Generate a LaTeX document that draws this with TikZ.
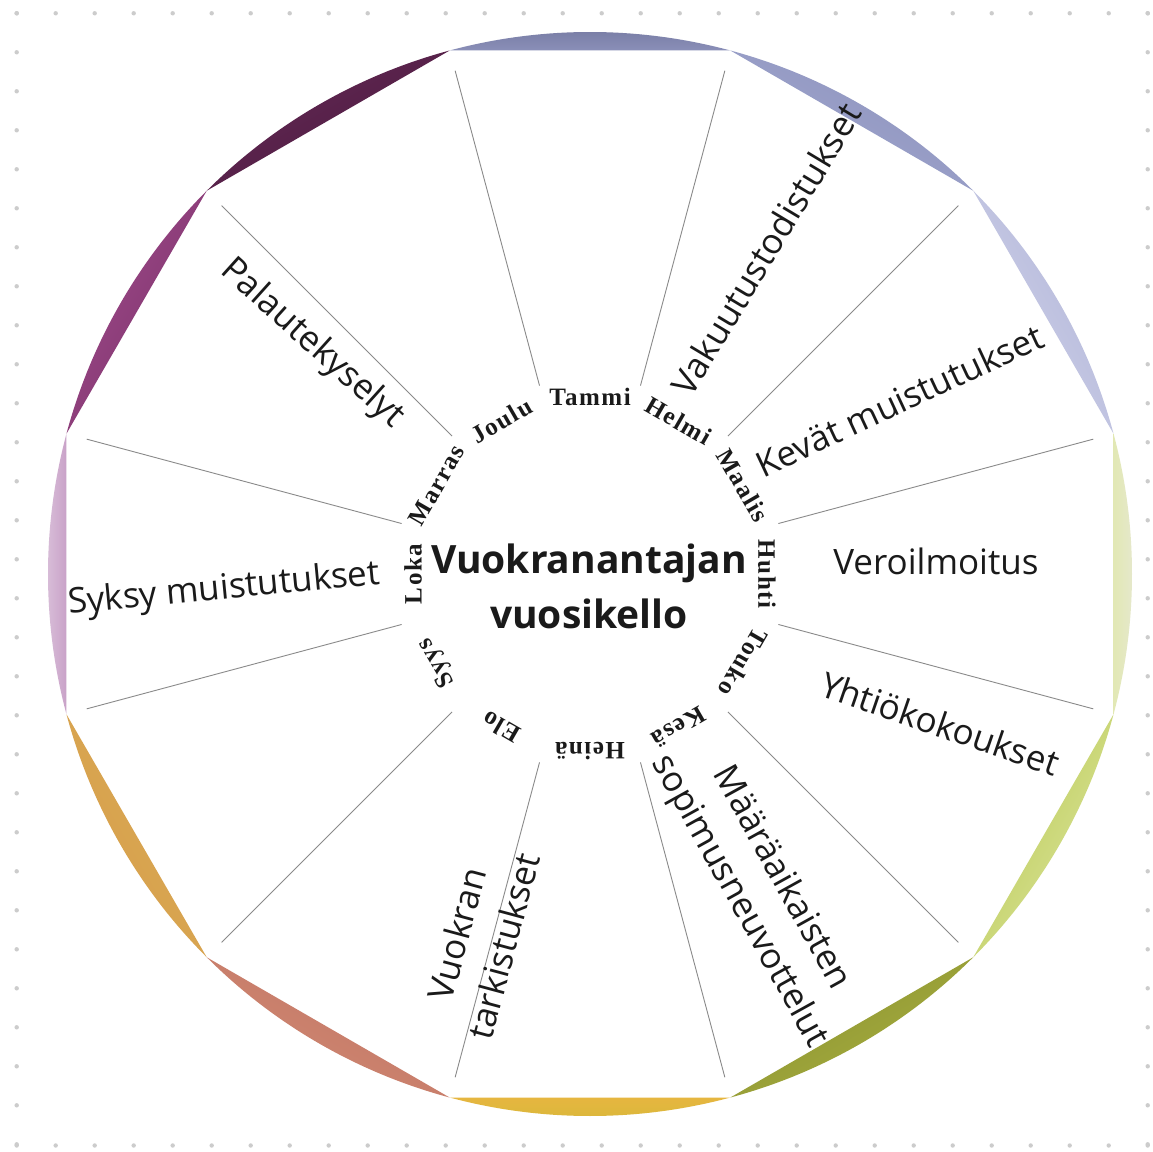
\documentclass[tikz,border=0pt]{standalone}
\usepackage{fontspec}
\newfontfamily\osans{Open Sans}
\newfontfamily\mserif{Liberation Serif}[LetterSpace=6]
\definecolor{dotc}{HTML}{CCCCCC}
\definecolor{spokec}{HTML}{8A8A8A}
\definecolor{txt}{HTML}{1A1A1A}
% segment colours: A = counterclockwise end, B = clockwise end
\definecolor{a90}{HTML}{767AA2}\definecolor{b90}{HTML}{8A8FB8}
\definecolor{a60}{HTML}{8C92BC}\definecolor{b60}{HTML}{A3A8D0}
\definecolor{a30}{HTML}{B0B4D8}\definecolor{b30}{HTML}{D2D4EA}
\definecolor{a0}{HTML}{E6E8D2}\definecolor{b0}{HTML}{E2E8B4}
\definecolor{a-30}{HTML}{DDE6A0}\definecolor{b-30}{HTML}{B8C850}
\definecolor{a-60}{HTML}{A8B040}\definecolor{b-60}{HTML}{8A9030}
\definecolor{a-90}{HTML}{D9B83A}\definecolor{b-90}{HTML}{E6B640}
\definecolor{a-120}{HTML}{D08A70}\definecolor{b-120}{HTML}{C27468}
\definecolor{a-150}{HTML}{D8A048}\definecolor{b-150}{HTML}{D8A858}
\definecolor{a180}{HTML}{DCC4DC}\definecolor{b180}{HTML}{C9A2C8}
\definecolor{a150}{HTML}{A04C8C}\definecolor{b150}{HTML}{7A3068}
\definecolor{a120}{HTML}{652656}\definecolor{b120}{HTML}{4A1E3E}
\begin{document}
\begin{tikzpicture}[x=1pt,y=1pt,
  spoke/.style={draw=spokec, line width=0.9pt},
  month/.style={font=\mserif\bfseries\fontsize{25}{28}\selectfont, text=txt, inner sep=0pt},
  lab/.style={font=\osans\fontsize{35}{48}\selectfont, text=txt, inner sep=0pt},
  ttl/.style={font=\osans\bfseries\fontsize{39}{44}\selectfont, text=txt, inner sep=0pt}]
\useasboundingbox (-590,-577) rectangle (563,574);
\fill[white] (-590,-577) rectangle (563,574);
% dotted frame
\foreach \i in {0,...,29}{
  \fill[dotc] ({-573.3+39*\i},560.7) circle (2.2);
  \fill[dotc] ({-573.3+39*\i},-571.5) circle (2.2);
  \fill[dotc] (-573.3,{560.7-39*\i}) circle (2.2);
  \fill[dotc] (557.7,{560.7-39*\i}) circle (2.2);
}
% disc
\fill[white] (0,0) circle (542);
% coloured segments
\foreach \t in {90,60,30,0,-30,-60,-90,-120,-150,180,150,120}{
  \pgfmathsetmacro\sa{\t-90}
  \shade[left color=a\t, right color=b\t, shading angle=\sa]
    ({\t+15}:542) arc[start angle={\t+15}, end angle={\t-15}, radius=542] -- cycle;
}
% spokes
\foreach \t in {15,45,...,345}{
  \draw[spoke] (\t:195) -- (\t:521);
}
% months
\foreach \m/\a [count=\i] in {Tammi/90, Helmi/60, Maalis/30, Huhti/0, Touko/-30, Kesä/-60, Heinä/-90, Elo/-120, Syys/-150, Loka/180, Marras/150, Joulu/120}{
  \node[month, rotate=\a-90] (m\i) at (\a:177) {\m};
}
% title
\node[ttl, anchor=base] (t1) at (-1,1) {Vuokranantajan};
\node[ttl, anchor=base] (t2) at (-1,-54) {vuosikello};
% outer labels
\node[lab, rotate=59, anchor=base] (vak) at (187,318) {Vakuutustodistukset};
\node[lab, rotate=25, anchor=base] (kev) at (315,162) {Kevät muistutukset};
\node[lab, anchor=base] (ver) at (346,0) {Veroilmoitus};
\node[lab, rotate=-19, anchor=base] (yht) at (346,-162) {Yhtiökokoukset};
\node[lab, rotate=-61, align=center] (maa) at (170,-316) {Määräaikaisten\\sopimusneuvottelut};
\node[lab, rotate=75, align=center] (vuo) at (-110,-366) {Vuokran\\tarkistukset};
\node[lab, rotate=5.5, anchor=base] (syk) at (-365,-25) {Syksy muistutukset};
\node[lab, rotate=-42] (pal) at (-278,230) {Palautekyselyt};
\end{tikzpicture}
\end{document}
